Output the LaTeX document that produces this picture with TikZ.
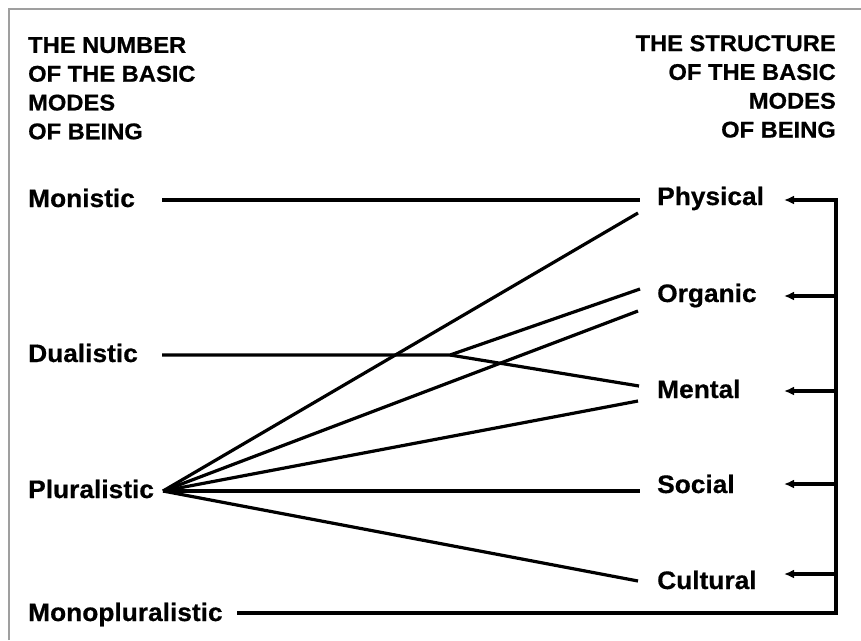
\documentclass[tikz,border=0pt]{standalone}
\usepackage{fontspec}
\setmainfont[FakeStretch=1.04,FakeBold=0.6]{Liberation Sans}
\usetikzlibrary{arrows.meta}
\begin{document}
\begin{tikzpicture}[x=1pt,y=-1pt,
  lbl/.style={font=\bfseries\fontsize{25.3}{28}\selectfont, inner sep=0pt},
  hdr/.style={font=\bfseries\fontsize{22.8}{28.8}\selectfont, inner sep=0pt},
  link/.style={line width=3.2pt},
  feed/.style={line width=3.2pt, -{Latex[length=10pt,width=9pt]}},
  framestyle/.style={draw=gray!75, line width=1.8pt}]
\useasboundingbox (0,0) rectangle (861,640);
\draw[framestyle] (9,640) -- (9,9) -- (861,9);

% headers
\node[hdr, anchor=north west, align=left] (numhdr) at (28,37) {THE NUMBER\\OF THE BASIC\\MODES\\OF BEING};
\node[hdr, anchor=north east, align=right] (strhdr) at (836,35) {THE STRUCTURE\\OF THE BASIC\\MODES\\OF BEING};

% left labels
\node[lbl, anchor=base west] (mon) at (28,207) {Monistic};
\node[lbl, anchor=base west] (dual) at (28,362) {Dualistic};
\node[lbl, anchor=base west] (plur) at (28,498) {Pluralistic};
\node[lbl, anchor=base west] (mono) at (28,621) {Monopluralistic};

% right labels
\node[lbl, anchor=base west] (phys) at (657,205) {Physical};
\node[lbl, anchor=base west] (org) at (657,302) {Organic};
\node[lbl, anchor=base west] (ment) at (657,398) {Mental};
\node[lbl, anchor=base west] (soc) at (657,493) {Social};
\node[lbl, anchor=base west] (cult) at (657,589) {Cultural};

% connector end points
\coordinate (monL) at (162,200);
\coordinate (physA) at (640,200);
\coordinate (dualL) at (162,355);
\coordinate (jn) at (450,355);
\coordinate (orgU) at (640,289);
\coordinate (mentU) at (639,386);
\coordinate (plurP) at (163,491);
\coordinate (physB) at (638,213);
\coordinate (orgB) at (638,311);
\coordinate (mentB) at (638,401);
\coordinate (socA) at (640,491);
\coordinate (cultA) at (638,581);
\coordinate (monoL) at (237,613);
\coordinate (corner) at (836,613);
\coordinate (barTop) at (836,200);
\coordinate (barOrg) at (836,296);
\coordinate (barMent) at (836,391);
\coordinate (barSoc) at (836,484);
\coordinate (barCult) at (836,574);
\coordinate (tipPhys) at (784,200);
\coordinate (tipOrg) at (784,296);
\coordinate (tipMent) at (784,391);
\coordinate (tipSoc) at (784,484);
\coordinate (tipCult) at (784,574);

% connectors
\draw[link] (monL) -- (physA);
\draw[link] (dualL) -- (jn) -- (orgU);
\draw[link] (jn) -- (mentU);
\draw[link] (plurP) -- (physB);
\draw[link] (plurP) -- (orgB);
\draw[link] (plurP) -- (mentB);
\draw[link] (plurP) -- (socA);
\draw[link] (plurP) -- (cultA);

% feedback bar
\draw[feed] (monoL) -- (corner) -- (barTop) -- (tipPhys);
\draw[feed] (barOrg) -- (tipOrg);
\draw[feed] (barMent) -- (tipMent);
\draw[feed] (barSoc) -- (tipSoc);
\draw[feed] (barCult) -- (tipCult);
\end{tikzpicture}
\end{document}
